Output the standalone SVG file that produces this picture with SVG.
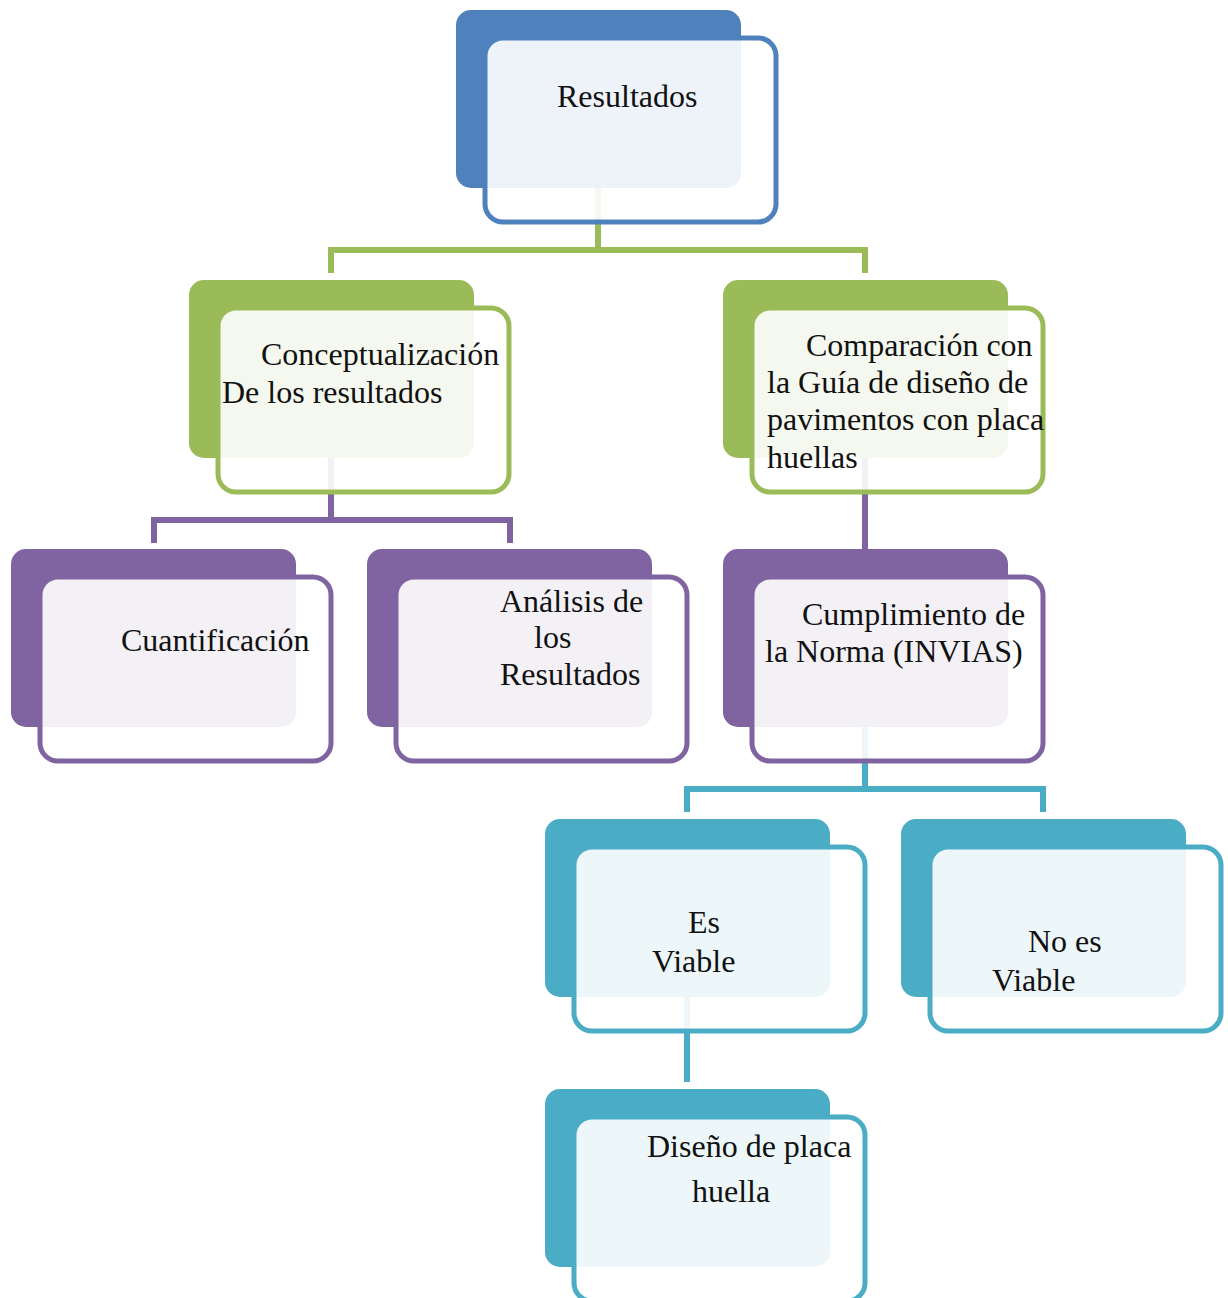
<svg xmlns="http://www.w3.org/2000/svg" width="1228" height="1298" viewBox="0 0 1228 1298">
  <style>
    .back { stroke: none; }
    .front { fill: #ffffff; fill-opacity: 0.9; stroke-width: 5; }
    .link { fill: none; stroke-width: 6; stroke-linejoin: miter; stroke-linecap: butt; }
    .lbl { font-family: "Liberation Serif", "Times New Roman", serif; font-size: 32px; fill: #111111; }
    .blue .back { fill: #4f81bd; } .blue .front { stroke: #4f81bd; }
    .green .back { fill: #9bbb59; } .green .front { stroke: #9bbb59; }
    .purple .back { fill: #8064a2; } .purple .front { stroke: #8064a2; }
    .cyan .back { fill: #4bacc6; } .cyan .front { stroke: #4bacc6; }
  </style>
  <rect width="1228" height="1298" fill="#ffffff"/>

  <!-- connectors (drawn beneath the translucent front cards) -->
  <g id="connectors">
    <path class="link" stroke="#9bbb59" d="M598,188 V250 M331,273 V250 H865 V273"/>
    <path class="link" stroke="#8064a2" d="M331,458 V520 M154,543 V520 H510 V543"/>
    <path class="link" stroke="#8064a2" d="M865,458 V549"/>
    <path class="link" stroke="#4bacc6" d="M865,727 V789 M687,812 V789 H1043 V812"/>
    <path class="link" stroke="#4bacc6" d="M687,997 V1082"/>
  </g>

  <!-- Level 1 -->
  <g id="resultados" class="blue">
    <rect class="back" x="456" y="10" width="285" height="178" rx="15"/>
    <rect class="front" x="485" y="38" width="291" height="184" rx="18"/>
    <text class="lbl" x="557" y="107">Resultados</text>
  </g>

  <!-- Level 2 -->
  <g id="conceptualizacion" class="green">
    <rect class="back" x="189" y="280" width="285" height="178" rx="15"/>
    <rect class="front" x="218" y="308" width="291" height="184" rx="18"/>
    <text class="lbl" x="261" y="365">Conceptualización</text>
    <text class="lbl" x="222" y="403">De los resultados</text>
  </g>
  <g id="comparacion" class="green">
    <rect class="back" x="723" y="280" width="285" height="178" rx="15"/>
    <rect class="front" x="752" y="308" width="291" height="184" rx="18"/>
    <text class="lbl" x="806" y="356">Comparación con</text>
    <text class="lbl" x="767" y="393">la Guía de diseño de</text>
    <text class="lbl" x="767" y="430">pavimentos con placa</text>
    <text class="lbl" x="767" y="468">huellas</text>
  </g>

  <!-- Level 3 -->
  <g id="cuantificacion" class="purple">
    <rect class="back" x="11" y="549" width="285" height="178" rx="15"/>
    <rect class="front" x="40" y="577" width="291" height="184" rx="18"/>
    <text class="lbl" x="121" y="651">Cuantificación</text>
  </g>
  <g id="analisis" class="purple">
    <rect class="back" x="367" y="549" width="285" height="178" rx="15"/>
    <rect class="front" x="396" y="577" width="291" height="184" rx="18"/>
    <text class="lbl" x="500" y="612">Análisis de</text>
    <text class="lbl" x="534" y="648">los</text>
    <text class="lbl" x="500" y="685">Resultados</text>
  </g>
  <g id="cumplimiento" class="purple">
    <rect class="back" x="723" y="549" width="285" height="178" rx="15"/>
    <rect class="front" x="752" y="577" width="291" height="184" rx="18"/>
    <text class="lbl" x="802" y="625">Cumplimiento de</text>
    <text class="lbl" x="765" y="662">la Norma (INVIAS)</text>
  </g>

  <!-- Level 4 -->
  <g id="es-viable" class="cyan">
    <rect class="back" x="545" y="819" width="285" height="178" rx="15"/>
    <rect class="front" x="574" y="847" width="291" height="184" rx="18"/>
    <text class="lbl" x="688" y="933">Es</text>
    <text class="lbl" x="652" y="972">Viable</text>
  </g>
  <g id="no-es-viable" class="cyan">
    <rect class="back" x="901" y="819" width="285" height="178" rx="15"/>
    <rect class="front" x="930" y="847" width="291" height="184" rx="18"/>
    <text class="lbl" x="1028" y="952">No es</text>
    <text class="lbl" x="992" y="991">Viable</text>
  </g>

  <!-- Level 5 -->
  <g id="diseno" class="cyan">
    <rect class="back" x="545" y="1089" width="285" height="178" rx="15"/>
    <rect class="front" x="574" y="1117" width="291" height="184" rx="18"/>
    <text class="lbl" x="647" y="1157">Diseño de placa</text>
    <text class="lbl" x="692" y="1202">huella</text>
  </g>
</svg>
